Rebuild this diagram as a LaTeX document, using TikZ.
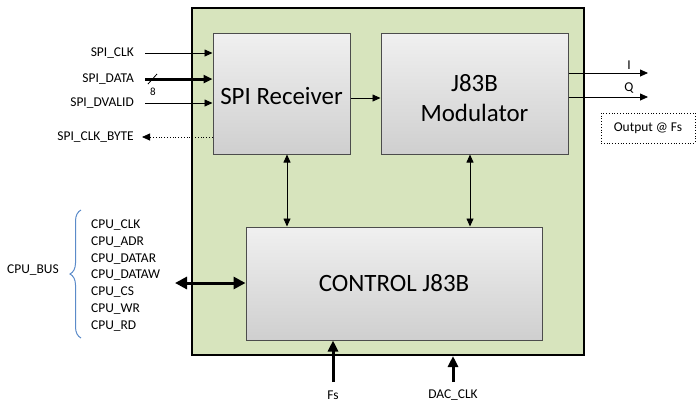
\documentclass[tikz,border=0pt]{standalone}
\usepackage{fontspec}
\setmainfont{Carlito}
\usepackage{xcolor}
\usetikzlibrary{calc,shapes,positioning}
\usetikzlibrary{arrows,arrows.meta,decorations.pathreplacing}

\definecolor{chipgreen}{HTML}{D7E4BD}
\definecolor{boxtop}{HTML}{F0F0F0}
\definecolor{boxbot}{HTML}{CFCFCF}
\definecolor{bracec}{HTML}{5B8BC9}

\begin{document}
\begin{tikzpicture}[x=1bp,y=-1bp]
      \tikzstyle{lbl} = [inner sep = 0pt, font=\fontsize{13.5}{15}\selectfont]
      \tikzstyle{bnode} = [draw=black!70, line width=1bp, top color=boxtop, bottom color=boxbot, inner sep = 2pt, align=center, font=\fontsize{25}{30}\selectfont]
      \tikzstyle{thin} = [line width=0.8bp, -{Triangle[length=8bp,width=7bp]}]
      \tikzstyle{fat} = [line width=3bp, -{Triangle[length=11bp,width=10bp]}]

      \useasboundingbox (0,0) rectangle (700,408);

      \node[draw, line width=2bp, fill=chipgreen, minimum width=392bp, minimum height=347bp] (chip) at (388, 181.5) {};

      \node[bnode, minimum width=137bp, minimum height=121bp] (rx) at (281.5, 93.5) {\rule{0pt}{22bp}SPI Receiver};
      \node[bnode, minimum width=187bp, minimum height=121bp] (mod) at (474.5, 93.5) {\rule{0pt}{27bp}J83B\\Modulator};
      \node[bnode, minimum width=296bp, minimum height=113bp] (ctrl) at (394, 283.5) {CONTROL J83B};

      % spi inputs
      \node[lbl, anchor=east] (lclk) at (134, 53) {SPI\_CLK};
      \node[lbl, anchor=east] (ldata) at (134, 79) {SPI\_DATA};
      \node[lbl, anchor=east] (ldvalid) at (134, 103) {SPI\_DVALID};
      \node[lbl, anchor=east] (lbyte) at (134, 137) {SPI\_CLK\_BYTE};
      \node[inner sep=0pt, font=\fontsize{11}{12}\selectfont] (lwidth) at (153, 92) {8};

      \coordinate (clkin) at (145, 53);
      \coordinate (datain) at (145, 79);
      \coordinate (dvin) at (145, 103);
      \coordinate (byteout) at (142, 137);

      \draw[thin] (clkin) -- (rx.west |- clkin);
      \draw[line width=3bp, -{Triangle[length=9bp,width=8bp]}] (datain) -- (rx.west |- datain);
      \draw[line width=0.8bp] (148, 84) -- (157, 74);
      \draw[thin] (dvin) -- (rx.west |- dvin);
      \draw[thin, dotted] (rx.west |- byteout) -- (byteout);

      % internal
      \draw[thin] (rx.east |- 0,98) -- (mod.west |- 0,98);
      \draw[line width=0.8bp, {Triangle[length=8bp,width=7bp]}-{Triangle[length=8bp,width=7bp]}] (rx.south -| 287,0) -- (ctrl.north -| 287,0);
      \draw[line width=0.8bp, {Triangle[length=8bp,width=7bp]}-{Triangle[length=8bp,width=7bp]}] (mod.south -| 470,0) -- (ctrl.north -| 470,0);

      % outputs
      \coordinate (iout) at (648, 73);
      \coordinate (qout) at (648, 97);
      \draw[thin] (mod.east |- iout) -- (iout);
      \draw[thin] (mod.east |- qout) -- (qout);
      \node[lbl] (li) at (629, 65) {I};
      \node[lbl] (lq) at (629, 88) {Q};
      \node[lbl, draw, dotted, line width=0.8bp, minimum width=94bp, minimum height=30bp] (outnote) at (648, 128) {Output @ Fs};

      % cpu bus
      \node[lbl, anchor=west] (cclk) at (91, 225) {CPU\_CLK};
      \node[lbl, anchor=west] (cadr) at (91, 242) {CPU\_ADR};
      \node[lbl, anchor=west] (cdatar) at (91, 259) {CPU\_DATAR};
      \node[lbl, anchor=west] (cdataw) at (91, 275) {CPU\_DATAW};
      \node[lbl, anchor=west] (ccs) at (91, 292) {CPU\_CS};
      \node[lbl, anchor=west] (cwr) at (91, 309) {CPU\_WR};
      \node[lbl, anchor=west] (crd) at (91, 326) {CPU\_RD};
      \node[lbl] (cbus) at (33, 270) {CPU\_BUS};
      \draw[bracec, line width=1bp, decorate, decoration={brace, amplitude=11bp}] (81, 338) -- (81, 210);

      \coordinate (busin) at (175, 283);
      \draw[line width=3bp, {Triangle[length=12bp,width=12bp]}-{Triangle[length=12bp,width=12bp]}] (busin) -- (ctrl.west |- busin);

      % clocks
      \node[lbl] (lfs) at (333, 395) {Fs};
      \node[lbl] (ldac) at (453, 395) {DAC\_CLK};
      \coordinate (fsin) at (333, 382);
      \coordinate (dacin) at (453, 382);
      \draw[fat] (fsin) -- (ctrl.south -| fsin);
      \draw[fat] (dacin) -- (chip.south -| dacin);
\end{tikzpicture}
\end{document}
